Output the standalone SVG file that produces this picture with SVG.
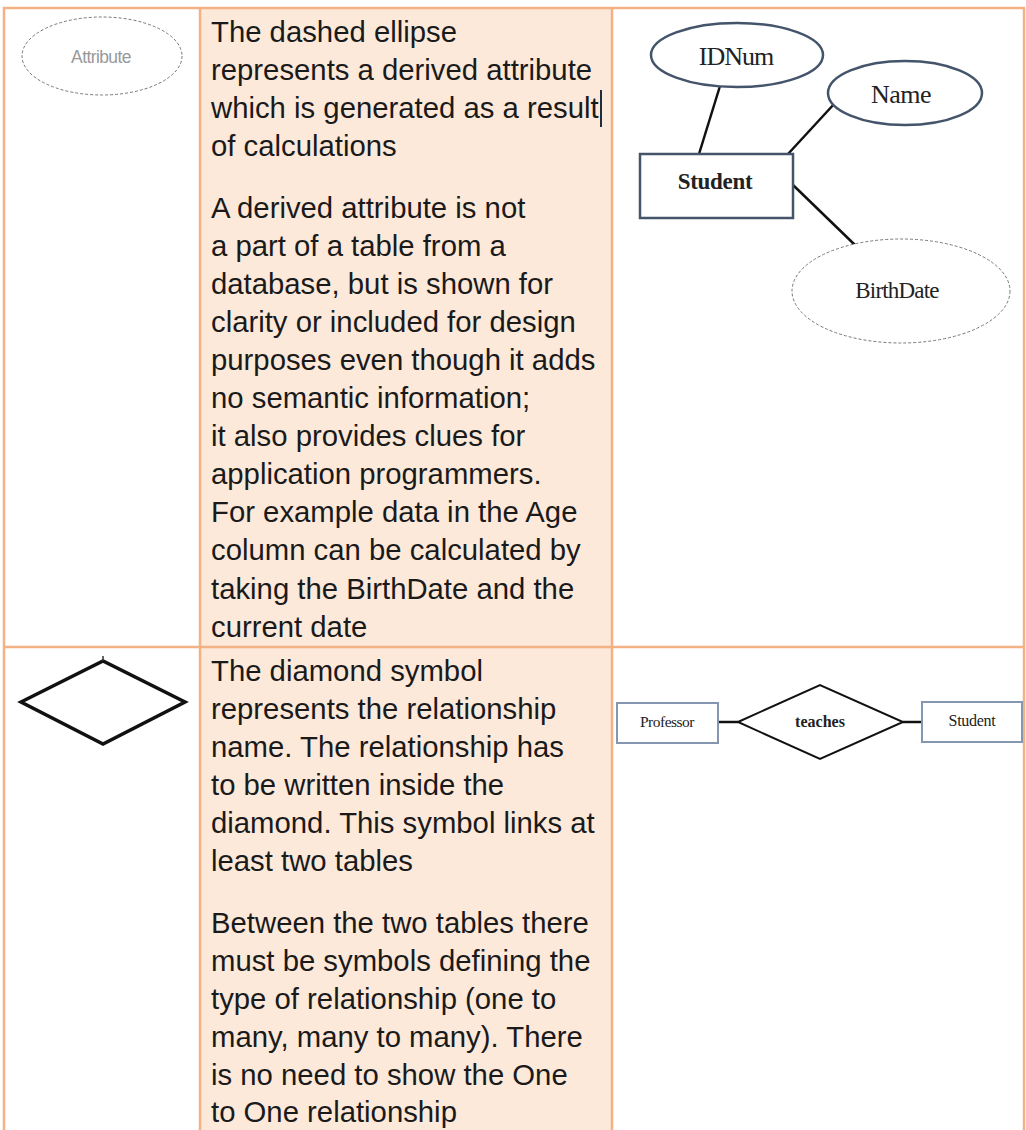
<svg xmlns="http://www.w3.org/2000/svg" width="1026" height="1130" viewBox="0 0 1026 1130">
<style>
.grid{stroke:#F4B183;stroke-width:2.5;fill:none}
.body{font-family:"Liberation Sans",Arial,sans-serif;font-size:29.3px;fill:#1a1a1a}
.ser{font-family:"Liberation Serif","Times New Roman",serif;fill:#222;text-anchor:middle}
.ell{fill:#fff;stroke:#44546A;stroke-width:2.5}
.dash{fill:#fff;stroke:#777;stroke-width:1;stroke-dasharray:3 2}
.ln{stroke:#111;stroke-width:2.5;fill:none}
</style>
<rect x="0" y="0" width="1026" height="1130" fill="#fff"/>
<g id="table">
<rect x="200" y="8" width="412" height="1130" fill="#FCE9DA"/>
<path class="grid" d="M4 1135 V8 H1024 V1135 M200 8 V1135 M612 8 V1135 M4 647 H1024"/>
</g>
<g id="derived-symbol">
<ellipse class="dash" cx="102" cy="56" rx="80" ry="39"/>
<text x="101" y="63" text-anchor="middle" font-family="Liberation Sans,Arial,sans-serif" font-size="17.5" letter-spacing="-0.6" fill="#999">Attribute</text>
</g>
<g id="derived-text" class="body">
<text x="211" y="42">The dashed ellipse</text>
<text x="211" y="80">represents a derived attribute</text>
<text x="211" y="118">which is generated as a result</text>
<text x="211" y="156">of calculations</text>
<text x="211" y="218">A derived attribute is not</text>
<text x="211" y="256">a part of a table from a</text>
<text x="211" y="294">database, but is shown for</text>
<text x="211" y="332">clarity or included for design</text>
<text x="211" y="370">purposes even though it adds</text>
<text x="211" y="408">no semantic information;</text>
<text x="211" y="446">it also provides clues for</text>
<text x="211" y="484">application programmers.</text>
<text x="211" y="522">For example data in the Age</text>
<text x="211" y="560">column can be calculated by</text>
<text x="211" y="599">taking the BirthDate and the</text>
<text x="211" y="637">current date</text>
</g>
<line x1="601" y1="90" x2="601" y2="127" stroke="#1F2D3D" stroke-width="2"/>
<g id="connectors">
<line class="ln" x1="720" y1="86" x2="699" y2="154"/>
<line class="ln" x1="835" y1="103" x2="788" y2="154"/>
<line class="ln" x1="793" y1="185" x2="855" y2="245"/>
<line class="ln" x1="718" y1="722" x2="738" y2="722"/>
<line class="ln" x1="903" y1="722" x2="922" y2="722"/>
</g>
<g id="idnum">
<ellipse class="ell" cx="737" cy="55" rx="86" ry="32"/>
<text class="ser" x="736" y="65" font-size="26" letter-spacing="-1">IDNum</text>
</g>
<g id="name">
<ellipse class="ell" cx="905" cy="93" rx="77" ry="32"/>
<text class="ser" x="901" y="103" font-size="26" letter-spacing="-0.5">Name</text>
</g>
<g id="student">
<rect x="640" y="154" width="153" height="64" fill="#fff" stroke="#44546A" stroke-width="2.5"/>
<text class="ser" x="715" y="189" font-size="23" font-weight="bold" letter-spacing="-0.3">Student</text>
</g>
<g id="birthdate">
<ellipse class="dash" cx="901" cy="291" rx="109" ry="52"/>
<text class="ser" x="897" y="298" font-size="23" letter-spacing="-0.8">BirthDate</text>
</g>
<g id="diamond-symbol">
<polygon points="21,702 103,661 185,702 103,744" fill="#fff" stroke="#111" stroke-width="3.5"/>
<line x1="103" y1="656" x2="103" y2="661" stroke="#333" stroke-width="1.5"/>
</g>
<g id="rel-text" class="body">
<text x="211" y="681">The diamond symbol</text>
<text x="211" y="719">represents the relationship</text>
<text x="211" y="757">name. The relationship has</text>
<text x="211" y="795">to be written inside the</text>
<text x="211" y="833">diamond. This symbol links at</text>
<text x="211" y="871">least two tables</text>
<text x="211" y="933">Between the two tables there</text>
<text x="211" y="971">must be symbols defining the</text>
<text x="211" y="1009">type of relationship (one to</text>
<text x="211" y="1047">many, many to many). There</text>
<text x="211" y="1085">is no need to show the One</text>
<text x="211" y="1122">to One relationship</text>
</g>
<g id="professor">
<rect x="617" y="703" width="101" height="40" fill="#fff" stroke="#8496B0" stroke-width="2"/>
<text class="ser" x="667" y="727" font-size="15.5" letter-spacing="-0.5">Professor</text>
</g>
<g id="teaches">
<polygon points="738,722 820,685 903,722 820,759" fill="#fff" stroke="#111" stroke-width="2"/>
<text class="ser" x="820" y="727" font-size="16" font-weight="bold">teaches</text>
</g>
<g id="student2">
<rect x="922" y="702" width="100" height="40" fill="#fff" stroke="#8496B0" stroke-width="2"/>
<text class="ser" x="972" y="726" font-size="16" letter-spacing="-0.3">Student</text>
</g>
</svg>
